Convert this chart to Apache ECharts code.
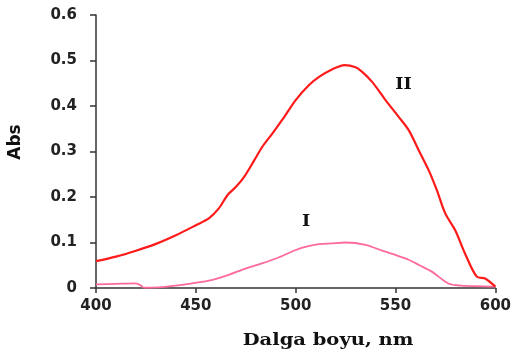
<!DOCTYPE html>
<html>
<head>
<meta charset="utf-8">
<script src="https://cdn.jsdelivr.net/npm/echarts@6/dist/echarts.min.js"></script>
<style>html,body{margin:0;padding:0;background:#fff}#c{width:514px;height:354px}</style>
</head>
<body>
<div id="c"></div>
<script>
var wlII = [400,410,420,430,440,450,456.5,461.5,466,470,474.3,479.3,483.4,488.4,494.3,500,506.7,511.7,518.4,524.5,530,533.3,538.3,545,551.6,556.6,561.6,566.6,570.7,574.9,579.9,584.8,590.7,594.9,600];
var absII = [0.059,0.069,0.082,0.097,0.116,0.138,0.153,0.175,0.205,0.222,0.245,0.281,0.311,0.340,0.376,0.413,0.446,0.464,0.481,0.490,0.485,0.475,0.453,0.413,0.376,0.347,0.303,0.259,0.215,0.164,0.127,0.076,0.025,0.021,0.003];
var wlI = [400,410,419,422,424,433,446.5,456.5,466.5,473.1,483.1,491.4,499.7,503.4,510.9,518,525,535,543.3,551.6,556.6,562,568.2,576.5,583.2,590,600];
var absI = [0.008,0.009,0.010,0.007,0.001,0.002,0.009,0.016,0.029,0.040,0.054,0.067,0.083,0.089,0.096,0.098,0.100,0.095,0.082,0.070,0.062,0.050,0.036,0.010,0.005,0.004,0.003];
var xTicks = [400,450,500,550,600];
var yTicks = [0,0.1,0.2,0.3,0.4,0.5,0.6];
var xTitle = 'Dalga boyu, nm';
var yTitle = 'Abs';
var seriesNames = ['II', 'I'];

function pairs(xs, ys){ return xs.map(function(x,i){ return [x, ys[i]]; }); }

var chart = echarts.init(document.getElementById('c'));
var axisCol = '#333';
chart.setOption({
  animation: false,
  backgroundColor: '#fff',
  grid: {left: 96, right: 17, top: 15, bottom: 66},
  xAxis: {
    type: 'value', min: xTicks[0], max: xTicks[xTicks.length-1], interval: 50,
    axisLine: {show: true, lineStyle: {color: axisCol, width: 1.5}},
    axisTick: {show: true, length: 5, lineStyle: {color: axisCol, width: 1.5}},
    axisLabel: {margin: 11, fontFamily: 'DejaVu Sans', fontWeight: 'bold', fontSize: 15, color: '#222'},
    splitLine: {show: false}
  },
  yAxis: {
    type: 'value', min: yTicks[0], max: yTicks[yTicks.length-1], interval: 0.1,
    axisLine: {show: true, lineStyle: {color: axisCol, width: 1.5}},
    axisTick: {show: true, length: 6, lineStyle: {color: axisCol, width: 1.5}},
    axisLabel: {margin: 19, fontFamily: 'DejaVu Sans', fontWeight: 'bold', fontSize: 15, color: '#222'},
    splitLine: {show: false}
  },
  series: [
    {type: 'line', name: seriesNames[0], data: pairs(wlII, absII), smooth: 0.3, showSymbol: false,
     lineStyle: {color: '#ff1a1a', width: 2.2}, z: 3},
    {type: 'line', name: seriesNames[1], data: pairs(wlI, absI), smooth: 0.3, showSymbol: false,
     lineStyle: {color: '#ff6a9c', width: 1.8}, z: 2}
  ],
  graphic: [
    {type: 'text', x: 328, y: 341, scaleX: 1.22,
     style: {text: xTitle, font: 'bold 16px "DejaVu Serif"', fill: '#111', textAlign: 'center', textVerticalAlign: 'middle'}},
    {type: 'text', x: 16, y: 142, rotation: Math.PI/2,
     style: {text: yTitle, font: 'bold 17px "DejaVu Sans"', fill: '#111', textAlign: 'center', textVerticalAlign: 'middle'}},
    {type: 'text', x: 403.5, y: 85, scaleX: 1.1,
     style: {text: seriesNames[0], font: 'bold 16px "DejaVu Serif"', fill: '#111', textAlign: 'center', textVerticalAlign: 'middle'}},
    {type: 'text', x: 306, y: 222, scaleX: 1.1,
     style: {text: seriesNames[1], font: 'bold 16px "DejaVu Serif"', fill: '#111', textAlign: 'center', textVerticalAlign: 'middle'}}
  ]
});
</script>
</body>
</html>
